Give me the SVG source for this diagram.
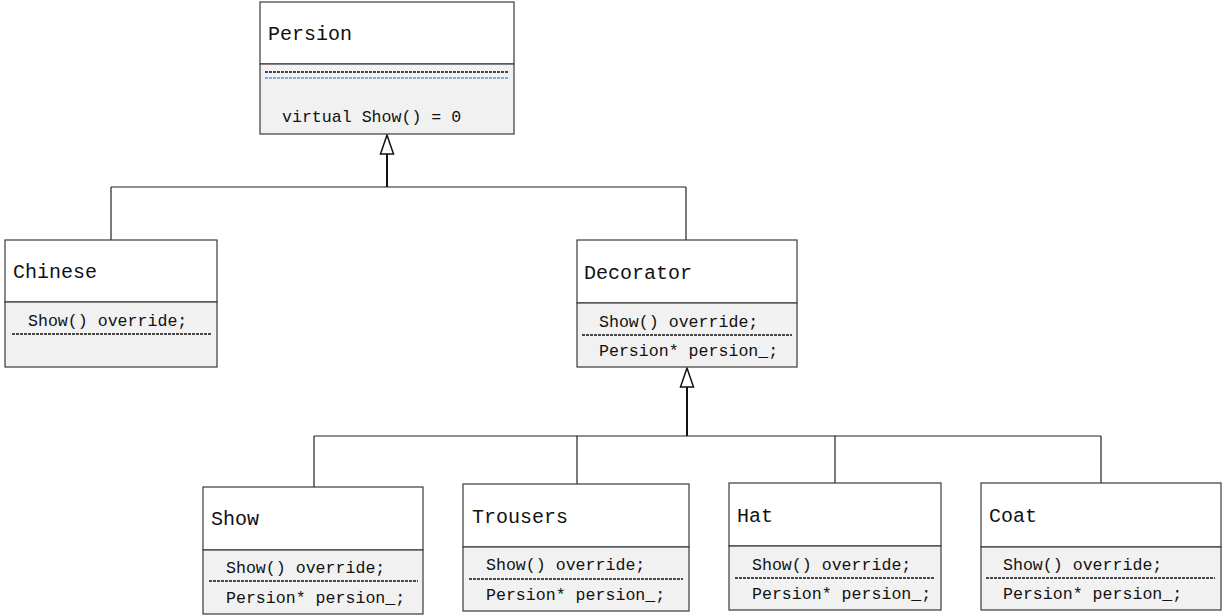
<svg xmlns="http://www.w3.org/2000/svg" width="1223" height="616" viewBox="0 0 1223 616">
<style>
.box{fill:#ffffff;stroke:#3a3a3a;stroke-width:1.2}
.body{fill:#f1f1f1;stroke:#3a3a3a;stroke-width:1.2}
.title{font-family:"Liberation Mono","DejaVu Sans Mono",monospace;font-size:20px;fill:#111}
.mem{font-family:"Liberation Mono","DejaVu Sans Mono",monospace;font-size:16.6px;fill:#111}
.dash{stroke:#111;stroke-width:1.3;stroke-dasharray:3,1;fill:none}
.dashb{stroke:#5b9bd5;stroke-width:1.3;stroke-dasharray:3,1;fill:none}
.ln{stroke:#222;stroke-width:1.2;fill:none}
.stem{stroke:#111;stroke-width:2;fill:none}
.tri{fill:#fff;stroke:#111;stroke-width:1.5}
</style>
<rect width="1223" height="616" fill="#ffffff"/>
<g id="connectors">
<path class="stem" d="M387 154 V187"/>
<path class="ln" d="M111 187 H686 M111 187 V240 M686 187 V240"/>
<polygon class="tri" points="387,135 380.5,154 393.5,154"/>
<path class="stem" d="M687 387 V436"/>
<path class="ln" d="M314 436 H1101 M314 436 V487 M577 436 V484 M835 436 V483 M1101 436 V483"/>
<polygon class="tri" points="687,368 680.5,387 693.5,387"/>
</g>
<g id="Persion">
<rect class="box" x="260" y="2" width="254" height="62"/>
<rect class="body" x="260" y="64" width="254" height="70"/>
<text class="title" x="268" y="40">Persion</text>
<line class="dash" x1="265" y1="72" x2="509" y2="72"/>
<line class="dashb" x1="265" y1="78" x2="509" y2="78"/>
<text class="mem" x="282" y="122">virtual Show() = 0</text>
</g>
<g id="Chinese">
<rect class="box" x="5" y="240" width="212" height="62"/>
<rect class="body" x="5" y="302" width="212" height="65"/>
<text class="title" x="13" y="278">Chinese</text>
<text class="mem" x="28" y="326">Show() override;</text>
<line class="dash" x1="12" y1="334" x2="211" y2="334"/>
</g>
<g id="Decorator">
<rect class="box" x="577" y="240" width="220" height="63"/>
<rect class="body" x="577" y="303" width="220" height="64"/>
<text class="title" x="584" y="279">Decorator</text>
<text class="mem" x="599" y="327">Show() override;</text>
<line class="dash" x1="582" y1="335" x2="792" y2="335"/>
<text class="mem" x="599" y="356">Persion* persion_;</text>
</g>
<g id="Show">
<rect class="box" x="203" y="487" width="220" height="63"/>
<rect class="body" x="203" y="550" width="220" height="64"/>
<text class="title" x="211" y="525">Show</text>
<text class="mem" x="226" y="573">Show() override;</text>
<line class="dash" x1="209" y1="581" x2="418" y2="581"/>
<text class="mem" x="226" y="603">Persion* persion_;</text>
</g>
<g id="Trousers">
<rect class="box" x="463" y="484" width="226" height="63"/>
<rect class="body" x="463" y="547" width="226" height="64"/>
<text class="title" x="472" y="523">Trousers</text>
<text class="mem" x="486" y="570">Show() override;</text>
<line class="dash" x1="469" y1="579" x2="683" y2="579"/>
<text class="mem" x="486" y="600">Persion* persion_;</text>
</g>
<g id="Hat">
<rect class="box" x="729" y="483" width="212" height="63"/>
<rect class="body" x="729" y="546" width="212" height="64"/>
<text class="title" x="737" y="522">Hat</text>
<text class="mem" x="752" y="570">Show() override;</text>
<line class="dash" x1="735" y1="578" x2="935" y2="578"/>
<text class="mem" x="752" y="599">Persion* persion_;</text>
</g>
<g id="Coat">
<rect class="box" x="981" y="483" width="240" height="64"/>
<rect class="body" x="981" y="547" width="240" height="63"/>
<text class="title" x="989" y="522">Coat</text>
<text class="mem" x="1003" y="570">Show() override;</text>
<line class="dash" x1="986" y1="578" x2="1215" y2="578"/>
<text class="mem" x="1003" y="599">Persion* persion_;</text>
</g>
</svg>
